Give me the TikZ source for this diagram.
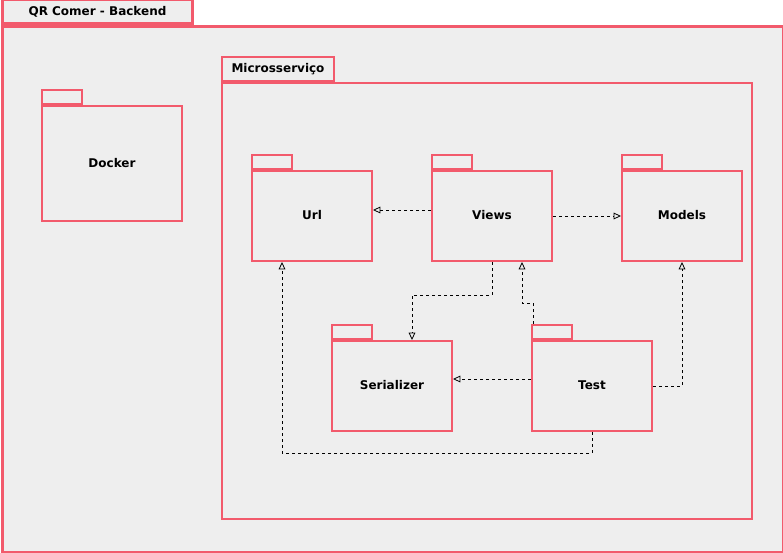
\documentclass[tikz,border=0pt]{standalone}
\usepackage{fontspec}
\setmainfont{DejaVu Sans}
\usetikzlibrary{arrows.meta,calc}
\definecolor{pkborda}{HTML}{F25A6C}
\definecolor{pkfundo}{HTML}{EEEEEE}
\tikzset{
  pacote/.style={draw=pkborda, fill=pkfundo, line width=1.5pt, anchor=north west,
    inner sep=0pt, font=\bfseries\fontsize{9}{11}\selectfont,
    minimum width=90pt, minimum height=67.5pt, text depth=1.5pt},
  aba/.style={draw=pkborda, fill=pkfundo, line width=1.5pt, anchor=south west,
    inner sep=0pt, minimum width=30pt, minimum height=10.5pt,
    font=\bfseries\fontsize{9}{11}\selectfont},
  dep/.style={dash pattern=on 2.25pt off 2.25pt, line width=0.6pt,
    -{Triangle[open,length=5.5pt,width=5pt]}}
}
\begin{document}
\begin{tikzpicture}[x=0.75pt, y=-0.75pt]
  \useasboundingbox (0,0) rectangle (783,553);

  % Pacote externo
  \node[pacote, line width=2.25pt, minimum width=585.75pt, minimum height=394.5pt]
    (backend) at (1,25) {};
  \node[aba, line width=2.25pt, minimum width=142.5pt, minimum height=18pt]
    (abaBackend) at (backend.north west) {QR Comer - Backend};

  % Docker
  \node[pacote, minimum width=105pt, minimum height=86.25pt] (docker) at (41,105) {Docker};
  \node[aba] at (docker.north west) {};

  % Microservico
  \node[pacote, minimum width=397.5pt, minimum height=327pt] (micro) at (221,82) {};
  \node[aba, minimum width=84pt, minimum height=18pt] at (micro.north west) {Microsserviço};

  % Pacotes internos
  \node[pacote] (url) at (251,170) {Url};
  \node[aba] at (url.north west) {};
  \node[pacote] (views) at (431,170) {Views};
  \node[aba] at (views.north west) {};
  \node[pacote] (models) at (621,170) {Models};
  \node[aba] at (models.north west) {};
  \node[pacote] (serializer) at (331,340) {Serializer};
  \node[aba] at (serializer.north west) {};
  \node[pacote] (teste) at (531,340) {Test};
  \node[aba] (abaTeste) at (teste.north west) {};

  % Dependencias
  \draw[dep] ($(views.west)+(0,-6)$) -- ($(url.east)+(0,-6)$);
  \draw[dep] (views.east) -- (models.west);
  \draw[dep] (views.south) -- ++(0,33) -| ($(serializer.north)+(20,0)$);
  \draw[dep] ($(abaTeste.north west)+(2,0)$) -- ++(0,-21) -| ($(views.south)+(30,0)$);
  \draw[dep] ($(teste.west)+(0,-7)$) -- ($(serializer.east)+(0,-7)$);
  \draw[dep] (teste.east) -| (models.south);
  \draw[dep] (teste.south) -- ++(0,21) -| ($(url.south)+(-30,0)$);
\end{tikzpicture}
\end{document}
